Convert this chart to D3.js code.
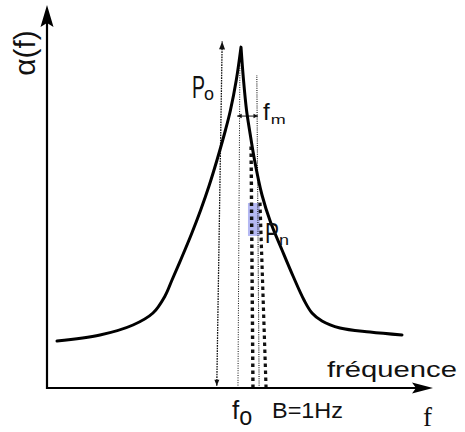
<!DOCTYPE html>
<html><head><meta charset="utf-8">
<script src="https://cdn.jsdelivr.net/npm/d3@7"></script>
<style>html,body{margin:0;padding:0;background:#fff;} svg{display:block;}</style>
</head><body>
<script>
// Spectrum curve alpha(f), arbitrary units (0..100 on both axes)
const curveFreq  = [2.60, 13.77, 22.34, 27.53, 30.65, 32.47, 34.94, 37.53, 39.92, 42.08, 44.16, 46.36, 47.66, 49.17, 50.39,
                    51.04, 51.82, 52.60, 53.90, 55.84, 58.05, 61.04, 63.90, 66.75, 68.83, 71.43, 76.10, 83.90, 92.21];
const curveAlpha = [12.27, 13.84, 16.45, 19.58, 24.02, 28.20, 33.94, 40.21, 46.48, 52.74, 59.53, 67.36, 72.58, 80.42, 89.0,
                    80.42, 72.58, 67.36, 59.53, 50.39, 43.34, 36.03, 29.24, 22.98, 19.58, 17.49, 15.67, 14.62, 13.84];
const peakIndex = 14;

// vertical guide lines: P0 arrow, f0 line, fm line, band edges (B = 1 Hz)
const guideNames       = ["P0", "f0", "fm", "bandLeft", "bandRight"];
const guideFreqBottom  = [44.1, 49.6, 55.1, 53.5, 56.9];
const guideFreqTop     = [45.5, 50.1, 54.5, 53.0, 55.3];
const guideAlphaTop    = [90.5, 84.3, 81.7, 64.0, 49.0];
const guideAlphaBottom = [0.6, 0, 0, 0, 0];

// band highlight (Pn)
const bandFreq  = [52.2, 55.3];
const bandAlpha = [39.7, 48.3];

// fm width arrow
const fmFreq  = [49.4, 54.8];
const fmAlpha = 71.0;

const W = 465, H = 432;
const svg = d3.select("body").append("svg").attr("width", W).attr("height", H);

const x = d3.scaleLinear().domain([0, 100]).range([47, 432]);
const y = d3.scaleLinear().domain([0, 100]).range([388, 5]);

// band rect
svg.append("rect")
  .attr("x", x(bandFreq[0])).attr("width", x(bandFreq[1]) - x(bandFreq[0]))
  .attr("y", y(bandAlpha[1])).attr("height", y(bandAlpha[0]) - y(bandAlpha[1]))
  .attr("fill", "#a7acf0").attr("opacity", 0.85);

// guides
const guideStyle = {
  P0: {w: 1.3, dash: "1.6,1"},
  f0: {w: 1, dash: "1,1.4"},
  fm: {w: 1.1, dash: "1,1.2"},
  bandLeft: {w: 3.4, dash: "3.5,3.5"},
  bandRight: {w: 3.2, dash: "3.5,3.5"}
};
guideNames.forEach((n, i) => {
  const st = guideStyle[n];
  svg.append("line")
    .attr("x1", x(guideFreqBottom[i])).attr("y1", y(guideAlphaBottom[i]))
    .attr("x2", x(guideFreqTop[i])).attr("y2", y(guideAlphaTop[i]))
    .attr("stroke", "#111").attr("stroke-width", st.w).attr("stroke-dasharray", st.dash);
});

function head(px, py, angle, len, half) {
  const a = angle * Math.PI / 180;
  const ux = Math.cos(a), uy = Math.sin(a);
  const bx = px - ux * len, by = py - uy * len;
  svg.append("path")
    .attr("d", `M${px},${py}L${bx - uy * half},${by + ux * half}L${bx + uy * half},${by - ux * half}Z`)
    .attr("fill", "#111");
}
{
  const i = 0;
  const tx = x(guideFreqTop[i]), ty = y(guideAlphaTop[i]);
  const bx = x(guideFreqBottom[i]), by = y(guideAlphaBottom[i]);
  const ang = Math.atan2(ty - by, tx - bx) * 180 / Math.PI;
  head(tx, ty, ang, 8, 3);
  head(bx, by, ang + 180, 6, 2.5);
}

// fm arrow
svg.append("line")
  .attr("x1", x(fmFreq[0])).attr("x2", x(fmFreq[1]))
  .attr("y1", y(fmAlpha)).attr("y2", y(fmAlpha))
  .attr("stroke", "#111").attr("stroke-width", 1);
head(x(fmFreq[0]), y(fmAlpha), 180, 4.5, 2.2);
head(x(fmFreq[1]), y(fmAlpha), 0, 4.5, 2.2);

// curve: two smooth branches meeting at a sharp peak
const pts = curveFreq.map((f, i) => [f, curveAlpha[i]]);
const line = d3.line().x(d => x(d[0])).y(d => y(d[1])).curve(d3.curveCatmullRom.alpha(0.5));
const leftD = line(pts.slice(0, peakIndex + 1));
const rightD = line(pts.slice(peakIndex)).replace(/^M[^CLQ]*/, "");
svg.append("path").attr("d", leftD + rightD)
  .attr("fill", "none").attr("stroke", "#000").attr("stroke-width", 3)
  .attr("stroke-linejoin", "round").attr("stroke-linecap", "round");

// axes
svg.append("line").attr("x1", x(0) - 1).attr("x2", x(100) - 12).attr("y1", y(0)).attr("y2", y(0))
  .attr("stroke", "#000").attr("stroke-width", 2.2);
svg.append("line").attr("x1", x(0)).attr("x2", x(0)).attr("y1", y(0) + 1).attr("y2", y(100) + 12)
  .attr("stroke", "#000").attr("stroke-width", 2.2);
function axisHead(px, py, dir) {
  let d;
  if (dir === "up") d = `M${px},${py}L${px + 6.5},${py + 22}L${px},${py + 18}L${px - 6.5},${py + 22}Z`;
  else d = `M${px},${py}L${px - 21},${py - 5.5}L${px - 17},${py}L${px - 21},${py + 5.5}Z`;
  svg.append("path").attr("d", d).attr("fill", "#000");
}
axisHead(x(0), y(100), "up");
axisHead(x(100) + 1, y(0), "right");

// texts
const sans = "'Liberation Sans', Arial, sans-serif";
function txt(s, px, py, size, opts = {}) {
  const t = svg.append("text").attr("x", px).attr("y", py)
    .attr("font-family", opts.family || sans).attr("font-size", size).attr("fill", "#111");
  const main = t.append("tspan").text(s);
  if (opts.len) main.attr("textLength", opts.len).attr("lengthAdjust", "spacingAndGlyphs");
  if (opts.sub) {
    const sb = t.append("tspan").text(opts.sub.s).attr("font-size", opts.sub.size)
      .attr("dx", opts.sub.dx || 0).attr("dy", opts.sub.dy || 0);
    if (opts.sub.len) sb.attr("textLength", opts.sub.len).attr("lengthAdjust", "spacingAndGlyphs");
  }
  if (opts.anchor) t.attr("text-anchor", opts.anchor);
  if (opts.transform) t.attr("transform", opts.transform);
  return t;
}
txt("α(f)", 0, 0, 30, {anchor: "middle", transform: "translate(35,53) rotate(-90)"});
txt("P", 192, 98, 31, {len: 13, sub: {s: "o", size: 19, dx: -1, dy: 2, len: 10}});
txt("f", 263, 120, 24, {sub: {s: "m", size: 13, dx: 1, dy: 4, len: 15}});
txt("P", 265, 243, 29, {len: 14, sub: {s: "n", size: 15, dx: 0, dy: 2, len: 10}});
txt("fréquence", 327, 377, 21.5, {len: 130});
txt("f", 232, 419, 26, {sub: {s: "o", size: 26, dx: 0, dy: 6, len: 13}});
txt("B=1Hz", 272, 418, 22, {len: 71});
txt("f", 423, 426, 27, {family: "'Liberation Serif', 'Times New Roman', serif"});
</script>
</body></html>
